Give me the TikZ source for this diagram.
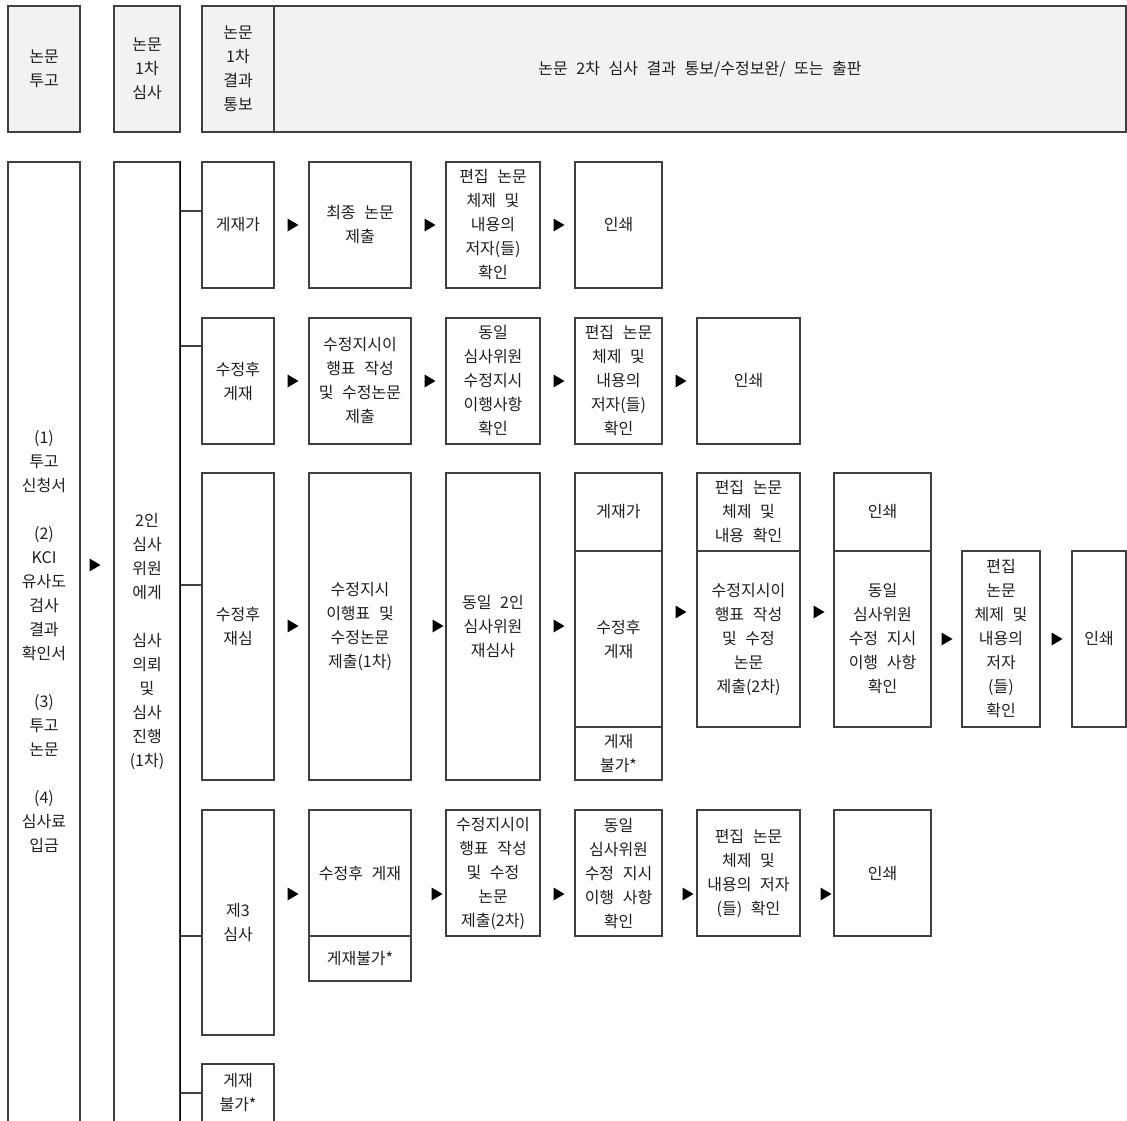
\documentclass[tikz,border=0pt]{standalone}
\usepackage{fontspec}
\setmainfont{Noto Sans CJK KR}[WordSpace=2.4]
\definecolor{bd}{HTML}{404040}
\definecolor{hd}{HTML}{F2F2F2}
\definecolor{tx}{HTML}{1F1F1F}
\tikzset{
  bxs/.style={draw=bd, line width=1.2pt, inner sep=0pt, text=tx, align=center,
    font=\fontsize{16}{24}\selectfont},
  hbx/.style={bxs, fill=hd},
  txs/.style={inner sep=0pt, text=tx, align=center, font=\fontsize{16}{24}\selectfont},
  brl/.style={draw=bd, line width=1.2pt},
}
\newcommand\mybox[7]{\node[#1, minimum width={(#5-#3)*1pt}, minimum height={(#6-#4)*1pt}] (#2) at ({(#3+#5)/2},{(#4+#6)/2}) {#7};}
\newcommand\tri[2]{\fill[black] ({#1-5.5},{#2-6.5}) -- ({#1+5.5},{#2}) -- ({#1-5.5},{#2+6.5}) -- cycle;}
\begin{document}
\begin{tikzpicture}[x=1pt,y=-1pt]
\useasboundingbox (0,0) rectangle (1127,1121);
\clip (0,0) rectangle (1127,1121);
% header
\mybox{hbx}{h1}{8}{6}{80}{132}{논문\\투고}
\mybox{hbx}{h2}{114}{6}{180}{132}{논문\\1차\\심사}
\mybox{hbx}{h3}{202}{6}{274}{132}{논문\\1차\\결과\\통보}
\mybox{hbx}{h4}{274}{6}{1126}{132}{논문 2차 심사 결과 통보/수정보완/ 또는 출판}
% left columns
\mybox{bxs}{b1}{8}{162}{80}{1140}{}
\node[txs] (b1t) at (44,641) {(1)\\투고\\신청서\\[24pt](2)\\KCI\\유사도\\검사\\결과\\확인서\\[24pt](3)\\투고\\논문\\[24pt](4)\\심사료\\입금};
\mybox{bxs}{b2}{114}{162}{180}{1140}{}
\draw[black, line width=1.2pt] (b2.north east) -- (b2.south east);
\node[txs] (b2t) at (147,641) {2인\\심사\\위원\\에게\\[24pt]심사\\의뢰\\및\\심사\\진행\\(1차)};
\tri{95}{565}
% row 1
\mybox{bxs}{r1a}{202}{162}{274}{288}{게재가}
\mybox{bxs}{r1b}{309}{162}{411}{288}{최종 논문\\제출}
\mybox{bxs}{r1c}{446}{162}{540}{288}{편집 논문\\체제 및\\내용의\\저자(들)\\확인}
\mybox{bxs}{r1d}{575}{162}{662}{288}{인쇄}
\tri{293}{225}\tri{430}{225}\tri{559}{225}
% row 2
\mybox{bxs}{r2a}{202}{318}{274}{444}{수정후\\게재}
\mybox{bxs}{r2b}{309}{318}{411}{444}{수정지시이\\행표 작성\\및 수정논문\\제출}
\mybox{bxs}{r2c}{446}{318}{540}{444}{동일\\심사위원\\수정지시\\이행사항\\확인}
\mybox{bxs}{r2d}{575}{318}{662}{444}{편집 논문\\체제 및\\내용의\\저자(들)\\확인}
\mybox{bxs}{r2e}{697}{318}{800}{444}{인쇄}
\tri{293}{381}\tri{430}{381}\tri{559}{381}\tri{681}{381}
% row 3
\mybox{bxs}{r3a}{202}{473}{274}{780}{수정후\\재심}
\mybox{bxs}{r3b}{309}{473}{411}{780}{수정지시\\이행표 및\\수정논문\\제출(1차)}
\mybox{bxs}{r3c}{446}{473}{540}{780}{동일 2인\\심사위원\\재심사}
\mybox{bxs}{r3d1}{575}{473}{662}{551}{게재가}
\mybox{bxs}{r3d2}{575}{551}{662}{727}{수정후\\게재}
\mybox{bxs}{r3d3}{575}{727}{662}{780}{게재\\불가*}
\mybox{bxs}{r3e1}{697}{473}{800}{551}{편집 논문\\체제 및\\내용 확인}
\mybox{bxs}{r3e2}{697}{551}{800}{727}{수정지시이\\행표 작성\\및 수정\\논문\\제출(2차)}
\mybox{bxs}{r3f1}{834}{473}{931}{551}{인쇄}
\mybox{bxs}{r3f2}{834}{551}{931}{727}{동일\\심사위원\\수정 지시\\이행 사항\\확인}
\mybox{bxs}{r3g}{962}{551}{1040}{727}{편집\\논문\\체제 및\\내용의\\저자\\(들)\\확인}
\mybox{bxs}{r3h}{1072}{551}{1126}{727}{인쇄}
\tri{293}{626}\tri{438}{626}\tri{559}{626}\tri{681}{612}\tri{819}{612}\tri{947}{639}\tri{1057}{639}
% row 4
\mybox{bxs}{r4a}{202}{810}{274}{1035}{제3\\심사}
\mybox{bxs}{r4b1}{309}{810}{411}{936}{수정후 게재}
\mybox{bxs}{r4b2}{309}{936}{411}{981}{게재불가*}
\mybox{bxs}{r4c}{446}{810}{540}{936}{수정지시이\\행표 작성\\및 수정\\논문\\제출(2차)}
\mybox{bxs}{r4d}{575}{810}{662}{936}{동일\\심사위원\\수정 지시\\이행 사항\\확인}
\mybox{bxs}{r4e}{697}{810}{800}{936}{편집 논문\\체제 및\\내용의 저자\\(들) 확인}
\mybox{bxs}{r4f}{834}{810}{931}{936}{인쇄}
\tri{293}{894}\tri{437}{894}\tri{559}{894}\tri{688}{894}\tri{826}{894}
% row 5
\mybox{bxs}{r5a}{202}{1064}{274}{1140}{}
\node[txs] (r5t) at (238,1092) {게재\\불가*};
% branches
\path (0,211) coordinate (y1) (0,346) coordinate (y2) (0,585) coordinate (y3)
      (0,936) coordinate (y4) (0,1093) coordinate (y5);
\draw[brl] (b2.east |- y1) -- (r1a.west |- y1);
\draw[brl] (b2.east |- y2) -- (r2a.west |- y2);
\draw[brl] (b2.east |- y3) -- (r3a.west |- y3);
\draw[brl] (b2.east |- y4) -- (r4a.west |- y4);
\draw[brl] (b2.east |- y5) -- (r5a.west |- y5);
\end{tikzpicture}
\end{document}
